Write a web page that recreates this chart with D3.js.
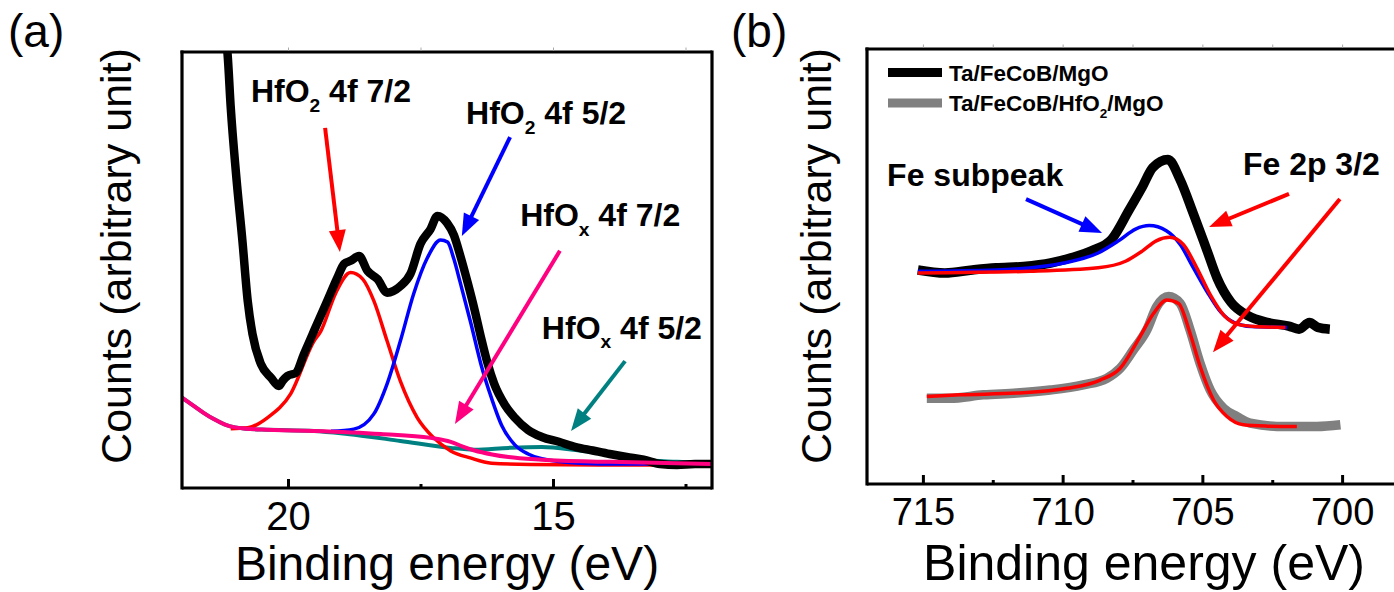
<!DOCTYPE html>
<html><head><meta charset="utf-8">
<script src="https://cdn.jsdelivr.net/npm/d3@7"></script>
<style>body{margin:0;background:#fff}svg{display:block}text{font-family:"Liberation Sans",Arial,Helvetica,sans-serif}</style>
</head><body><svg id="c" width="1394" height="592"></svg>
<script>
// ---------- Panel (a): Hf 4f region ----------
const aTicks = [20, 15];
const aMinor = [17.5, 12.5];
const aExpE = [21.19,21.14,21.08,20.98,20.86,20.76,20.67,20.51,20.32,20.17,20.10,20.01,19.85,19.70,19.51,19.26,19.07,18.94,18.82,18.66,18.50,18.31,18.13,17.88,17.69,17.50,17.31,17.18,17.00,16.87,16.75,16.61,16.48,16.36,16.23,16.11,15.91,15.72,15.47,15.21,14.89,14.57,14.25,13.93,13.61,13.29,12.98,12.66,12.32,12.02];
const aExpC = [104.8,99.5,87.2,72.0,56.7,42.9,35.3,28.4,25.3,23.4,24.6,25.7,26.4,30.7,36.0,42.9,48.2,51.4,52.1,53.2,49.8,47.9,44.8,46.3,49.1,56.0,59.4,62.4,60.8,58.0,53.3,47.1,40.9,34.6,28.4,23.9,19.1,16.1,13.3,11.7,10.6,9.4,8.6,7.8,7.1,6.5,5.5,5.3,5.5,5.5];
const aO72E = [21.08,20.76,20.39,19.95,19.51,19.38,19.10,18.82,18.59,18.38,18.13,17.88,17.56,17.25,16.93,16.56,16.16,15.43,14.11,12.02];
const aO72C = [13.6,13.8,16.1,21.6,33.7,36.0,44.7,49.4,47.9,42.9,33.7,24.5,16.1,11.5,8.5,6.9,5.7,5.4,5.3,5.3];
const aO52E = [19.19,18.76,18.38,18.13,17.88,17.63,17.37,17.12,16.99,16.87,16.75,16.55,16.36,16.16,15.97,15.72,15.47,15.21,14.49,13.73,12.02];
const aO52C = [13.0,13.5,17.0,23.9,33.7,44.5,52.8,56.9,56.4,52.5,47.1,37.8,28.4,20.6,14.4,9.9,7.8,6.7,5.7,5.5,5.5];
const aX52E = [22.0,21.8,21.6,21.4,21.2,21.0,20.8,20.5,19.51,18.88,17.88,16.93,16.48,15.84,15.21,14.57,13.93,13.30,12.66,12.0];
const aX52C = [20.7,19.0,17.3,15.8,14.6,13.9,13.6,13.4,13.1,12.4,10.8,9.2,8.8,9.2,9.4,8.7,7.6,6.4,6.0,5.7];
const aX72E = [22.0,21.8,21.6,21.4,21.2,21.0,20.8,20.5,19.51,18.25,17.31,16.93,16.70,16.48,16.15,15.84,15.21,13.93,12.0];
const aX72C = [20.7,19.0,17.3,15.8,14.6,13.9,13.6,13.4,13.1,12.4,11.5,10.6,9.5,8.6,7.7,7.1,6.5,6.0,5.5];

// ---------- Panel (b): Fe 2p region ----------
const bTicks = [715, 710, 705, 700];
const bMinor = [712.5, 707.5, 702.5];
const bMgoE = [715.18,714.21,713.23,712.38,711.40,710.43,709.70,708.97,708.24,707.63,707.14,706.78,706.23,705.80,705.32,704.83,704.47,703.98,703.37,702.64,701.91,701.54,701.17,700.87,700.44];
const bMgoC = [49.2,48.5,49.2,49.7,50.0,50.8,52.0,53.6,56.3,62.9,68.4,72.7,74.6,70.0,62.1,53.6,47.3,41.8,38.7,37.1,36.3,35.6,37.1,36.0,35.6];
const bSubE = [715.18,712.38,709.95,708.73,708.00,707.39,706.90,706.29,705.80,705.32,704.83,704.34,703.86,703.25,701.97];
const bSubC = [48.9,49.2,50.8,53.1,55.9,58.6,59.4,58.2,55.1,49.7,44.2,39.5,37.1,36.2,36.0];
const bFeE = [715.18,711.16,708.73,707.75,707.14,706.65,706.17,705.69,705.20,704.71,704.22,703.73,703.12,702.03];
const bFeC = [48.5,48.9,49.7,51.2,53.6,55.9,56.7,55.1,49.7,43.4,38.7,36.7,36.2,36.0];
const bHfE = [714.86,714.03,712.84,711.64,710.45,709.26,708.42,707.94,707.47,706.99,706.63,706.21,705.79,705.44,705.08,704.72,704.24,703.76,703.29,702.09,700.90,700.06];
const bHfC = [19.7,19.7,20.5,20.9,21.6,22.8,24.3,26.6,30.8,35.4,40.8,43.1,41.5,35.4,27.7,21.6,17.4,15.5,14.0,13.2,13.2,13.6];
const bHfFitE = [714.86,713.67,711.64,709.85,708.66,707.94,707.23,706.75,706.27,705.85,705.44,705.08,704.60,704.12,703.53,702.69,701.62];
const bHfFitC = [20.1,20.5,20.9,22.0,23.9,26.6,33.9,39.2,42.3,41.5,34.6,27.0,19.3,15.5,13.6,13.3,13.2];

const svg = d3.select("#c");

function makePanel(o){
  const g = svg.append("g");
  const x = d3.scaleLinear().domain(o.xdom).range([o.x0, o.x1]);
  const y = d3.scaleLinear().domain([0,100]).range([o.y1, o.y0]);
  const cid = "clip"+o.id;
  svg.append("defs").append("clipPath").attr("id",cid).append("rect")
    .attr("x",o.x0).attr("y",o.y0).attr("width",o.x1-o.x0).attr("height",o.y1-o.y0);
  const cg = g.append("g").attr("clip-path",`url(#${cid})`);
  const line = d3.line().x(d=>x(d[0])).y(d=>y(d[1])).curve(d3.curveMonotoneX);
  o.series.forEach(s=>{
    cg.append("path").datum(d3.zip(s.e, s.c)).attr("d", line)
      .attr("fill","none").attr("stroke", s.color).attr("stroke-width", s.w)
      .attr("stroke-linejoin","round").attr("stroke-linecap","butt");
  });
  const fr = g.append("g").attr("stroke","#000").attr("stroke-width",3.2).attr("fill","none");
  fr.append("path").attr("d",`M${o.x0},${o.y1}H${o.x1}`);
  fr.append("path").attr("d",`M${o.x0},${o.y0-1.5}V${o.y1+1.5}`);
  fr.append("path").attr("d",`M${o.x0-1.5},${o.y0}H${o.x1}`);
  fr.append("path").attr("d",`M${o.x1},${o.y0-1.5}V${o.y1+1.5}`);
  const ax = d3.axisBottom(x).tickValues(o.ticks).tickSize(-9).tickPadding(14).tickFormat(d3.format("d"));
  const axg = g.append("g").attr("transform",`translate(0,${o.y1})`).call(ax);
  axg.select(".domain").remove();
  axg.selectAll(".tick line").attr("stroke","#000").attr("stroke-width",3);
  axg.selectAll(".tick text").attr("font-size",o.tickFs).attr("fill","#000")
    .attr("font-family","Liberation Sans, Arial, sans-serif").attr("dy","0.71em");
  const mx = d3.axisBottom(x).tickValues(o.minor).tickSize(-4).tickFormat("");
  const mg = g.append("g").attr("transform",`translate(0,${o.y1})`).call(mx);
  mg.select(".domain").remove();
  mg.selectAll(".tick line").attr("stroke","#000").attr("stroke-width",3);
  const tx = d3.axisTop(x).tickValues(o.ticks.concat(o.minor)).tickSize(3).tickFormat("");
  const tg = g.append("g").attr("transform",`translate(0,${o.y0-1.5})`).call(tx);
  tg.select(".domain").remove();
  tg.selectAll(".tick line").attr("stroke","#aaa").attr("stroke-width",1);
  g.append("text").attr("transform",`translate(${o.ytx},${o.yty}) rotate(-90)`)
    .attr("text-anchor","middle").attr("font-size",43).text("Counts (arbitrary unit)");
  g.append("text").attr("x",o.xtx).attr("y",580).attr("text-anchor","middle")
    .attr("font-size",o.xtFs).text("Binding energy (eV)");
  g.append("text").attr("x",o.lx).attr("y",47).attr("font-size",46).text(o.letter);
  return {g,x,y};
}

function arrow(g, x1,y1,x2,y2,color){
  const dx=x2-x1, dy=y2-y1, L=Math.hypot(dx,dy), ux=dx/L, uy=dy/L;
  const hl=22, hw=8.5;
  const bx=x2-ux*hl, by=y2-uy*hl;
  g.append("line").attr("x1",x1).attr("y1",y1).attr("x2",bx+ux*2).attr("y2",by+uy*2)
    .attr("stroke",color).attr("stroke-width",4);
  g.append("path").attr("d",`M${x2},${y2}L${bx-uy*hw},${by+ux*hw}L${bx+uy*hw},${by-ux*hw}Z`).attr("fill",color);
}
function label(g, x, y, parts, fs){
  const t = g.append("text").attr("x",x).attr("y",y).attr("font-size",fs).attr("font-weight","bold")
    .attr("xml:space","preserve").style("white-space","pre");
  let shifted = false;
  parts.forEach(p=>{
    if(p.sub){
      t.append("tspan").attr("font-size",fs*0.6).attr("dy",fs*0.3).text(p.t);
      shifted = true;
    } else {
      const s = t.append("tspan").text(p.t);
      if(shifted){ s.attr("dy",-fs*0.3); shifted=false; }
    }
  });
}

// Panel a
const A = makePanel({id:"a", xdom:[22,12], x0:182, x1:712, y0:52, y1:488, ticks:aTicks, minor:aMinor,
  tickFs:40, ytx:131, yty:256, xtx:447, xtFs:48, lx:8, letter:"(a)",
  series:[
    {e:aX52E,c:aX52C,color:"#008080",w:4},
    {e:aO72E,c:aO72C,color:"#ff0000",w:3.5},
    {e:aO52E,c:aO52C,color:"#0000ff",w:3.5},
    {e:aExpE,c:aExpC,color:"#000000",w:8.5},
    {e:aX72E,c:aX72C,color:"#ff0080",w:4}
  ]});
const aLabels = [
  {e:20.70,c:88.5,parts:[{t:"HfO"},{t:"2",sub:true},{t:" 4f 7/2"}]},
  {e:16.64,c:83.5,parts:[{t:"HfO"},{t:"2",sub:true},{t:" 4f 5/2"}]},
  {e:15.62,c:60.1,parts:[{t:"HfO"},{t:"x",sub:true},{t:" 4f 7/2"}]},
  {e:15.21,c:34.2,parts:[{t:"HfO"},{t:"x",sub:true},{t:" 4f 5/2"}]}
];
aLabels.forEach(l=>label(A.g, A.x(l.e), A.y(l.c), l.parts, 32));
const aArrows = [
  {e1:19.30,c1:82.6,e2:19.02,c2:54.1,color:"#ff0000"},
  {e1:15.81,c1:80.5,e2:16.72,c2:57.8,color:"#0000ff"},
  {e1:14.87,c1:54.4,e2:16.85,c2:14.7,color:"#ff0080"},
  {e1:13.64,c1:29.1,e2:14.66,c2:13.1,color:"#008080"}
];
aArrows.forEach(a=>arrow(A.g, A.x(a.e1),A.y(a.c1),A.x(a.e2),A.y(a.c2),a.color));

// Panel b
const B = makePanel({id:"b", xdom:[717,698], x0:867, x1:1398, y0:49, y1:484, ticks:bTicks, minor:bMinor,
  tickFs:38, ytx:831, yty:256, xtx:1144, xtFs:50, lx:731, letter:"(b)",
  series:[
    {e:bMgoE,c:bMgoC,color:"#000000",w:9.5},
    {e:bSubE,c:bSubC,color:"#0000ff",w:3.5},
    {e:bFeE,c:bFeC,color:"#ff0000",w:3.5},
    {e:bHfE,c:bHfC,color:"#808080",w:9.5},
    {e:bHfFitE,c:bHfFitC,color:"#ff0000",w:3.5}
  ]});
const bLabels = [
  {e:716.28,c:68.5,parts:[{t:"Fe subpeak"}]},
  {e:703.55,c:71.0,parts:[{t:"Fe 2p 3/2"}]}
];
bLabels.forEach(l=>label(B.g, B.x(l.e), B.y(l.c), l.parts, 32));
const bArrows = [
  {e1:711.31,c1:65.5,e2:708.59,c2:57.7,color:"#0000ff"},
  {e1:701.90,c1:66.7,e2:704.76,c2:59.1,color:"#ff0000"},
  {e1:700.08,c1:65.5,e2:704.62,c2:30.3,color:"#ff0000"}
];
bArrows.forEach(a=>arrow(B.g, B.x(a.e1),B.y(a.c1),B.x(a.e2),B.y(a.c2),a.color));

// legend
const legend = [
  {name:[{t:"Ta/FeCoB/MgO"}], color:"#000000"},
  {name:[{t:"Ta/FeCoB/HfO"},{t:"2",sub:true},{t:"/MgO"}], color:"#808080"}
];
legend.forEach((d,i)=>{
  const yy = 72.5 + i*30.5;
  B.g.append("line").attr("x1",888).attr("x2",942).attr("y1",yy).attr("y2",yy)
    .attr("stroke",d.color).attr("stroke-width",9);
  label(B.g, 949, yy+8, d.name, 22.5);
});
</script></body></html>
